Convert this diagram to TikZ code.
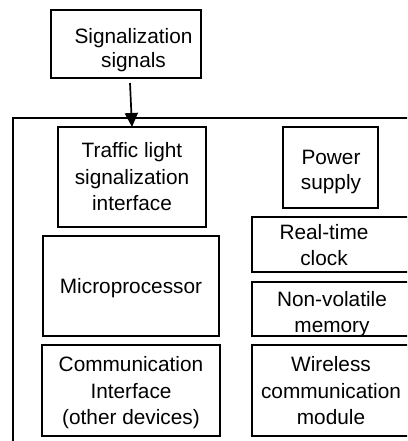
\documentclass[tikz,border=0pt]{standalone}
\usepackage{fontspec}
\setmainfont{Liberation Sans}
\usetikzlibrary{arrows.meta}
\begin{document}
\begin{tikzpicture}[x=1pt,y=-1pt,
  box/.style={draw, line width=1.7pt, inner sep=0pt, outer sep=0pt},
  txt/.style={align=center, inner sep=0pt, font=\fontsize{20.8}{25.5}\selectfont},
  txtw/.style={align=center, inner sep=0pt, font=\fontsize{20.8}{26.5}\selectfont}]
\useasboundingbox (0,0) rectangle (407,441);
\clip (0,0) rectangle (407,441);
% outer frame
\node[box, minimum width=417, minimum height=342] (frame) at (221.5,289) {};
% boxes
\node[box, minimum width=150, minimum height=68] (sig) at (126,44) {};
\node[box, minimum width=148, minimum height=100] (tl) at (132,177) {};
\node[box, minimum width=95, minimum height=81] (ps) at (330.5,167.5) {};
\node[box, minimum width=178, minimum height=55] (rtc) at (341,244.5) {};
\node[box, minimum width=176, minimum height=100] (mp) at (131,286) {};
\node[box, minimum width=178, minimum height=54] (nv) at (341,309) {};
\node[box, minimum width=178, minimum height=91] (cm) at (131,390.5) {};
\node[box, minimum width=178, minimum height=91] (wl) at (341,390.5) {};
% texts
\node[txt, font=\fontsize{20.8}{23.8}\selectfont] (sigt) at (133.5,49.9) {Signalization\\signals};
\node[txtw] (tlt) at (132,177) {Traffic light\\signalization\\interface};
\node[txt] (pst) at (331,172) {Power\\supply};
\node[txt] (rtct) at (324,245) {Real-time\\clock};
\node[txt] (mpt) at (131,287.7) {Microprocessor};
\node[txt] (nvt) at (332,314) {Non-volatile\\memory};
\node[txtw] (wlt) at (331,391) {Wireless\\communication\\module};
\node[txtw] (cmt) at (131,393) {Communication\\Interface\\(other devices)};
% arrow
\coordinate (a0) at (130,83);
\draw[line width=1.7pt, -{Triangle[length=14pt,width=13pt]}] (a0) -- (tl.north);
\end{tikzpicture}
\end{document}
